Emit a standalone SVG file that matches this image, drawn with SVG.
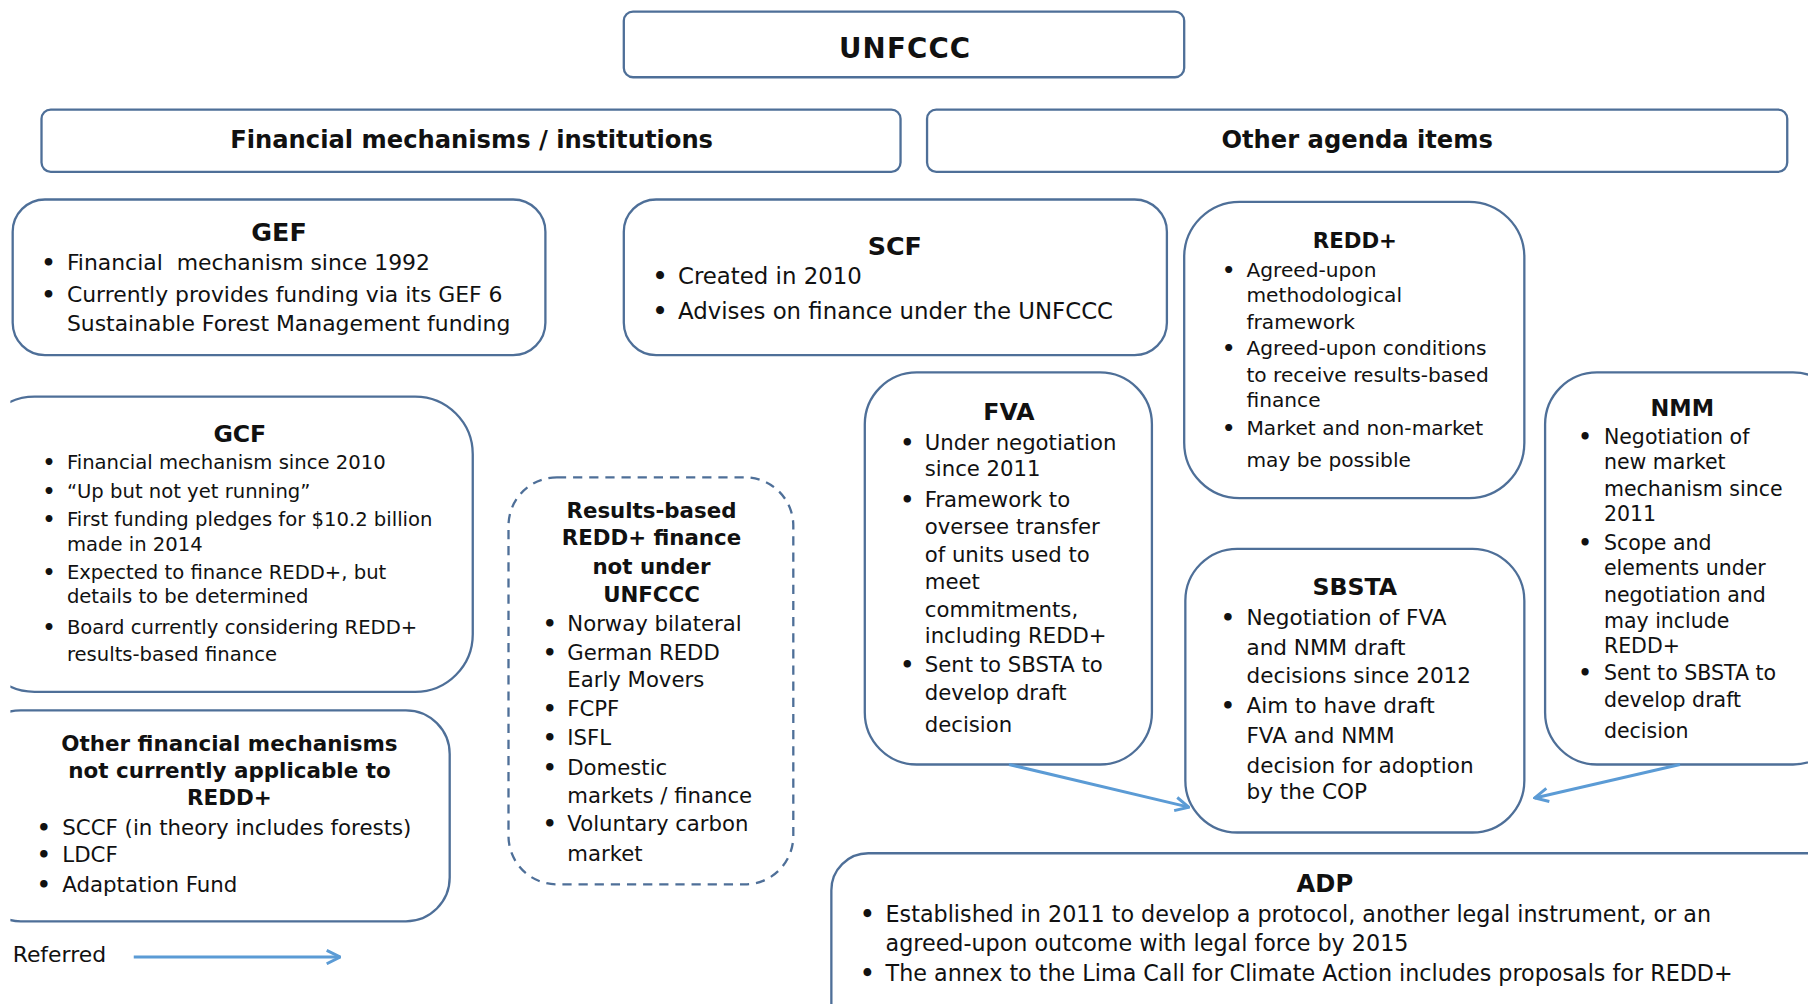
<svg xmlns="http://www.w3.org/2000/svg" width="1808" height="1004" viewBox="0 0 1808 1004">
<style>
.box{fill:#fff;stroke:#4e6f98;stroke-width:2}
.dash{fill:#fff;stroke:#4e6f98;stroke-width:2;stroke-dasharray:8 6}
text{font-family:"DejaVu Sans","Liberation Sans",sans-serif;fill:#111}
.t{font-weight:bold;text-anchor:middle}
.b{font-weight:bold}
.conn{stroke:#5b9bd5;stroke-width:2.6;fill:none}
</style>
<defs>
<marker id="arr" viewBox="0 0 12 12" refX="11" refY="6" markerWidth="14" markerHeight="14" markerUnits="userSpaceOnUse" orient="auto">
<path d="M1,1 L11,6 L1,11" fill="none" stroke="#5b9bd5" stroke-width="2.2"/>
</marker>
<clipPath id="lc"><rect x="9" y="0" width="1600" height="900"/></clipPath>
</defs>
<rect width="1808" height="1004" fill="#fff"/>
<g transform="scale(1.153061)">
<g id="unfccc"><rect class="box" x="541" y="10" width="486" height="57" rx="8"/><text class="t" x="785" y="50" font-size="24" letter-spacing="1">UNFCCC</text></g>
<g id="financial"><rect class="box" x="36" y="95" width="745" height="54" rx="8"/><text class="t" x="409" y="128" font-size="21">Financial mechanisms / institutions</text></g>
<g id="otheragenda"><rect class="box" x="804" y="95" width="746" height="54" rx="8"/><text class="t" x="1177" y="128" font-size="21">Other agenda items</text></g>

<g id="gef"><rect class="box" x="11" y="173" width="462" height="135" rx="28"/>
<text class="t" x="242" y="209" font-size="22">GEF</text>
<g font-size="19"><text class="b" x="36" y="234">•</text><text x="58" y="234" xml:space="preserve">Financial  mechanism since 1992</text>
<text class="b" x="36" y="262">•</text><text x="58" y="262">Currently provides funding via its GEF 6</text>
<text x="58" y="287">Sustainable Forest Management funding</text></g></g>

<g id="scf"><rect class="box" x="541" y="173" width="471" height="135" rx="28"/>
<text class="t" x="776" y="221" font-size="22">SCF</text>
<g font-size="19.8"><text class="b" x="566" y="246">•</text><text x="588" y="246">Created in 2010</text>
<text class="b" x="566" y="277">•</text><text x="588" y="277">Advises on finance under the UNFCCC</text></g></g>

<g id="redd"><rect class="box" x="1027" y="175" width="295" height="257" rx="48"/>
<text class="t" x="1175" y="215" font-size="18.5">REDD+</text>
<g font-size="17.5"><text class="b" x="1060" y="240">•</text><text x="1081" y="240">Agreed-upon</text>
<text x="1081" y="262">methodological</text><text x="1081" y="285">framework</text>
<text class="b" x="1060" y="308">•</text><text x="1081" y="308">Agreed-upon conditions</text>
<text x="1081" y="331">to receive results-based</text><text x="1081" y="353">finance</text>
<text class="b" x="1060" y="377">•</text><text x="1081" y="377">Market and non-market</text>
<text x="1081" y="405">may be possible</text></g></g>

<g id="gcf" clip-path="url(#lc)"><rect class="box" x="-20" y="344" width="430" height="256" rx="50"/>
<text class="t" x="208" y="383" font-size="20.5">GCF</text>
<g font-size="17"><text class="b" x="37" y="407">•</text><text x="58" y="407">Financial mechanism since 2010</text>
<text class="b" x="37" y="432">•</text><text x="58" y="432">“Up but not yet running”</text>
<text class="b" x="37" y="456">•</text><text x="58" y="456">First funding pledges for $10.2 billion</text>
<text x="58" y="478">made in 2014</text>
<text class="b" x="37" y="502">•</text><text x="58" y="502">Expected to finance REDD+, but</text>
<text x="58" y="523">details to be determined</text>
<text class="b" x="37" y="550">•</text><text x="58" y="550">Board currently considering REDD+</text>
<text x="58" y="573">results-based finance</text></g></g>

<g id="otherfin" clip-path="url(#lc)"><rect class="box" x="-20" y="616" width="410" height="183" rx="38"/>
<g font-size="18.6"><text class="t" x="199" y="651">Other financial mechanisms</text>
<text class="t" x="199" y="675">not currently applicable to</text>
<text class="t" x="199" y="698">REDD+</text></g>
<g font-size="18.5"><text class="b" x="32" y="724">•</text><text x="54" y="724">SCCF (in theory includes forests)</text>
<text class="b" x="32" y="748">•</text><text x="54" y="748">LDCF</text>
<text class="b" x="32" y="774">•</text><text x="54" y="774">Adaptation Fund</text></g></g>

<g id="resultsbased"><rect class="dash" x="441" y="414" width="247" height="353" rx="42"/>
<g font-size="18.5"><text class="t" x="565" y="449">Results-based</text>
<text class="t" x="565" y="473">REDD+ finance</text>
<text class="t" x="565" y="498">not under</text>
<text class="t" x="565" y="522">UNFCCC</text></g>
<g font-size="18.4"><text class="b" x="471" y="547">•</text><text x="492" y="547">Norway bilateral</text>
<text class="b" x="471" y="572">•</text><text x="492" y="572">German REDD</text>
<text x="492" y="596">Early Movers</text>
<text class="b" x="471" y="621">•</text><text x="492" y="621">FCPF</text>
<text class="b" x="471" y="646">•</text><text x="492" y="646">ISFL</text>
<text class="b" x="471" y="672">•</text><text x="492" y="672">Domestic</text>
<text x="492" y="696">markets / finance</text>
<text class="b" x="471" y="721">•</text><text x="492" y="721">Voluntary carbon</text>
<text x="492" y="747">market</text></g></g>

<g id="fva"><rect class="box" x="750" y="323" width="249" height="340" rx="45"/>
<text class="t" x="875" y="364" font-size="20.5">FVA</text>
<g font-size="18.4"><text class="b" x="781" y="390">•</text><text x="802" y="390">Under negotiation</text>
<text x="802" y="413">since 2011</text>
<text class="b" x="781" y="440">•</text><text x="802" y="440">Framework to</text>
<text x="802" y="463">oversee transfer</text>
<text x="802" y="487">of units used to</text>
<text x="802" y="511">meet</text>
<text x="802" y="535">commitments,</text>
<text x="802" y="558">including REDD+</text>
<text class="b" x="781" y="583">•</text><text x="802" y="583">Sent to SBSTA to</text>
<text x="802" y="607">develop draft</text>
<text x="802" y="635">decision</text></g></g>

<g id="sbsta"><rect class="box" x="1028" y="476" width="294" height="246" rx="45"/>
<text class="t" x="1175" y="516" font-size="20.5">SBSTA</text>
<g font-size="18.7"><text class="b" x="1059" y="542">•</text><text x="1081" y="542">Negotiation of FVA</text>
<text x="1081" y="568">and NMM draft</text>
<text x="1081" y="592">decisions since 2012</text>
<text class="b" x="1059" y="618">•</text><text x="1081" y="618">Aim to have draft</text>
<text x="1081" y="644">FVA and NMM</text>
<text x="1081" y="670">decision for adoption</text>
<text x="1081" y="693">by the COP</text></g></g>

<g id="nmm"><rect class="box" x="1340" y="323" width="260" height="340" rx="45"/>
<text class="t" x="1459" y="361" font-size="19.5">NMM</text>
<g font-size="17.8"><text class="b" x="1369" y="385">•</text><text x="1391" y="385">Negotiation of</text>
<text x="1391" y="407">new market</text>
<text x="1391" y="430">mechanism since</text>
<text x="1391" y="452">2011</text>
<text class="b" x="1369" y="477">•</text><text x="1391" y="477">Scope and</text>
<text x="1391" y="499">elements under</text>
<text x="1391" y="522">negotiation and</text>
<text x="1391" y="545">may include</text>
<text x="1391" y="566">REDD+</text>
<text class="b" x="1369" y="590">•</text><text x="1391" y="590">Sent to SBSTA to</text>
<text x="1391" y="613">develop draft</text>
<text x="1391" y="640">decision</text></g></g>

<g id="adp"><rect class="box" x="721" y="740" width="900" height="170" rx="32"/>
<text class="t" x="1149" y="774" font-size="21">ADP</text>
<g font-size="19.3"><text class="b" x="746" y="800">•</text><text x="768" y="800">Established in 2011 to develop a protocol, another legal instrument, or an</text>
<text x="768" y="825">agreed-upon outcome with legal force by 2015</text>
<text class="b" x="746" y="851">•</text><text x="768" y="851">The annex to the Lima Call for Climate Action includes proposals for REDD+</text></g></g>

<g id="connectors">
<line class="conn" x1="875" y1="663" x2="1031" y2="700" marker-end="url(#arr)"/>
<line class="conn" x1="1457" y1="663" x2="1331" y2="692" marker-end="url(#arr)"/>
</g>
<g id="legend"><text x="11" y="834" font-size="19">Referred</text>
<line class="conn" x1="116" y1="830" x2="295" y2="830" marker-end="url(#arr)"/></g>
</g>
</svg>
